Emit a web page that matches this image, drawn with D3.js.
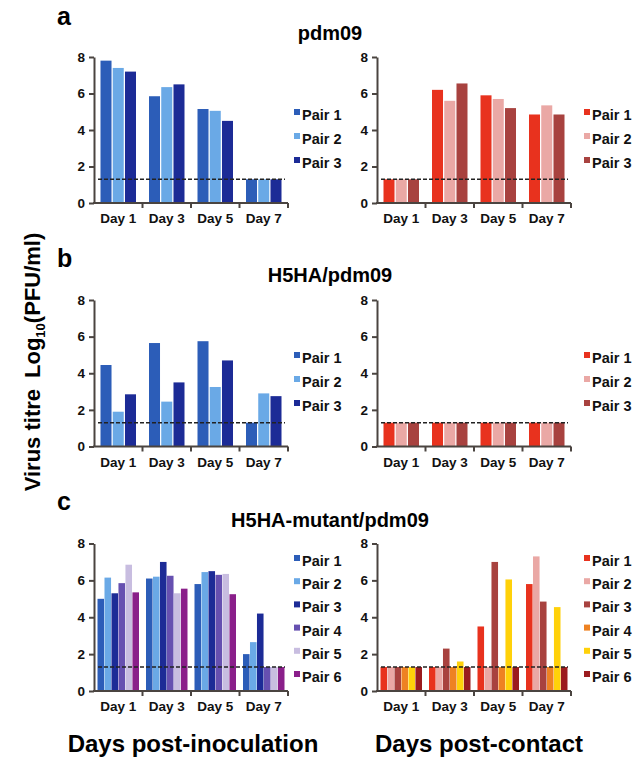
<!DOCTYPE html>
<html>
<head>
<meta charset="utf-8">
<script src="https://cdn.jsdelivr.net/npm/d3@7/dist/d3.min.js"></script>
<style>
	body { margin: 0; background: white; }
	svg { display: block; font-family: "Liberation Sans", Arial, Helvetica, sans-serif; }
</style>
</head>
<body>
<div id="chart"></div>
<script>

// Categories.
const days = ["Day 1", "Day 3", "Day 5", "Day 7"];
const pairs3 = ["Pair 1", "Pair 2", "Pair 3"];
const pairs6 = ["Pair 1", "Pair 2", "Pair 3", "Pair 4", "Pair 5", "Pair 6"];
const yTicks = [0, 2, 4, 6, 8];
const detectionLimit = 1.3;

// Titre values, one row per day, one entry per pair.
const pdm09Inoc = [[7.8, 7.4, 7.2], [5.85, 6.35, 6.5], [5.15, 5.05, 4.5], [1.3, 1.3, 1.3]];
const pdm09Contact = [[1.3, 1.3, 1.3], [6.2, 5.6, 6.55], [5.9, 5.7, 5.2], [4.85, 5.35, 4.85]];

const h5haInoc = [[4.45, 1.9, 2.85], [5.65, 2.45, 3.5], [5.75, 3.25, 4.7], [1.3, 2.9, 2.75]];
const h5haContact = [[1.3, 1.3, 1.3], [1.3, 1.3, 1.3], [1.3, 1.3, 1.3], [1.3, 1.3, 1.3]];

const mutantInoc = [
	[5.0, 6.15, 5.3, 5.85, 6.85, 5.35],
	[6.1, 6.2, 7.0, 6.25, 5.3, 5.55],
	[5.8, 6.45, 6.5, 6.3, 6.35, 5.25],
	[2.0, 2.65, 4.2, 1.3, 1.3, 1.3]
];
const mutantContact = [
	[1.3, 1.3, 1.3, 1.3, 1.3, 1.3],
	[1.3, 1.3, 2.3, 1.3, 1.6, 1.3],
	[3.5, 1.3, 7.0, 1.3, 6.05, 1.3],
	[5.8, 7.3, 4.85, 1.3, 4.55, 1.3]
];

// Series colours.
const blues = ["#2c5db8", "#6aa9e6", "#1c2b96", "#6650b0", "#c8bde0", "#8a1f8a"];
const reds = ["#e8321e", "#eaa8a5", "#a8423f", "#ee8222", "#ffd10a", "#9b1b1e"];


// Panel layout.
const axisColor = "#4a4440";
const plotW = 194;

let panels = [
	{letter: "a", title: "pdm09", ly: 25, ty: 40, y0: 203, y8: 57, legendY: 115, step: 24, sets: [
		{x: 94, data: pdm09Inoc, pairs: pairs3, colors: blues, lx: 294},
		{x: 377, data: pdm09Contact, pairs: pairs3, colors: reds, lx: 584}
	]},
	{letter: "b", title: "H5HA/pdm09", ly: 267, ty: 282, y0: 446.5, y8: 300, legendY: 358, step: 24, sets: [
		{x: 94, data: h5haInoc, pairs: pairs3, colors: blues, lx: 294},
		{x: 377, data: h5haContact, pairs: pairs3, colors: reds, lx: 584}
	]},
	{letter: "c", title: "H5HA-mutant/pdm09", ly: 510, ty: 527, y0: 691, y8: 543.5, legendY: 561, step: 23.2, sets: [
		{x: 94, data: mutantInoc, pairs: pairs6, colors: blues, lx: 294},
		{x: 377, data: mutantContact, pairs: pairs6, colors: reds, lx: 584}
	]}
];


let svg = d3.select("#chart")
  .append("svg")
	.attr("width", 633)
	.attr("height", 766);

svg.append("rect")
	.attr("width", 633)
	.attr("height", 766)
	.attr("fill", "white");


function drawSet(p, s){
	// One bar chart: axes, bars, detection limit and legend.
	let g = svg.append("g").attr("transform", `translate(${s.x},0)`);
	
	let y = d3.scaleLinear().domain([0, 8]).range([p.y0, p.y8]);
	let x = d3.scaleBand().domain(days).range([0, plotW]);
	let inner = d3.scaleBand()
	  .domain(s.pairs)
	  .range(s.pairs.length == 3 ? [6.5, 42] : [3.5, 45])
	  .paddingInner(s.pairs.length == 3 ? 0.1 : 0.06);
	
	// Bars.
	let groups = g.selectAll("g.day")
	  .data(s.data)
	  .enter()
	  .append("g")
		.attr("class", "day")
		.attr("transform", (d, i) => `translate(${x(days[i])},0)`);
	
	groups.selectAll("rect")
	  .data(d => d)
	  .enter()
	  .append("rect")
		.attr("x", (d, j) => inner(s.pairs[j]))
		.attr("width", inner.bandwidth())
		.attr("y", d => y(d))
		.attr("height", d => y(0) - y(d))
		.attr("fill", (d, j) => s.colors[j]);
	
	// Detection limit.
	g.append("line")
		.attr("x1", 4)
		.attr("x2", plotW - 3)
		.attr("y1", y(detectionLimit))
		.attr("y2", y(detectionLimit))
		.attr("stroke", "#222")
		.attr("stroke-width", 1.4)
		.attr("stroke-dasharray", "4,2");
	
	// Y axis.
	let yAxis = g.append("g")
	  .call(d3.axisLeft(y).tickValues(yTicks).tickSize(5).tickSizeOuter(0).tickPadding(4));
	yAxis.select(".domain").attr("stroke", axisColor).attr("stroke-width", 2);
	yAxis.selectAll(".tick line").attr("stroke", axisColor).attr("stroke-width", 2);
	yAxis.selectAll(".tick text")
		.attr("fill", "#111")
		.style("font-size", "13.5px")
		.style("font-weight", "bold");
	
	// X axis: baseline with ticks at the group boundaries.
	let xAxis = g.append("g").attr("transform", `translate(0,${p.y0})`);
	xAxis.append("line")
		.attr("x1", -1)
		.attr("x2", plotW)
		.attr("stroke", axisColor)
		.attr("stroke-width", 2);
	xAxis.selectAll("line.tick")
	  .data(days)
	  .enter()
	  .append("line")
		.attr("class", "tick")
		.attr("x1", d => x(d) + x.bandwidth())
		.attr("x2", d => x(d) + x.bandwidth())
		.attr("y1", 0)
		.attr("y2", 5)
		.attr("stroke", axisColor)
		.attr("stroke-width", 2);
	xAxis.selectAll("text")
	  .data(days)
	  .enter()
	  .append("text")
		.attr("x", d => x(d) + x.bandwidth() / 2)
		.attr("y", 20)
		.attr("text-anchor", "middle")
		.style("font-size", "13.5px")
		.style("font-weight", "bold")
		.attr("fill", "#111")
		.text(d => d);
	
	// Legend.
	let legend = svg.append("g")
	  .selectAll("g")
	  .data(s.pairs)
	  .enter()
	  .append("g")
		.attr("transform", (d, i) => `translate(${s.lx},${p.legendY + i * p.step})`);
	legend.append("rect")
		.attr("x", 0)
		.attr("y", -6)
		.attr("width", 6)
		.attr("height", 6)
		.attr("fill", (d, i) => s.colors[i]);
	legend.append("text")
		.attr("x", 8)
		.attr("y", 5)
		.style("font-size", "14.5px")
		.style("font-weight", "bold")
		.attr("fill", "#111")
		.text(d => d);
} // drawSet


panels.forEach(p => {
	svg.append("text")
		.attr("x", 57)
		.attr("y", p.ly)
		.style("font-size", "25px")
		.style("font-weight", "bold")
		.text(p.letter);
	
	svg.append("text")
		.attr("x", 330)
		.attr("y", p.ty)
		.attr("text-anchor", "middle")
		.style("font-size", "20px")
		.style("font-weight", "bold")
		.text(p.title);
	
	p.sets.forEach(s => drawSet(p, s));
}) // forEach


// Shared axis titles.
let ytitle = svg.append("text")
	.attr("transform", "translate(40,362) rotate(-90)")
	.attr("text-anchor", "middle")
	.style("font-size", "22px")
	.style("font-weight", "bold");
ytitle.append("tspan").text("Virus titre");
ytitle.append("tspan").attr("dx", 11).text("Log");
ytitle.append("tspan").attr("dy", 5).style("font-size", "13px").text("10");
ytitle.append("tspan").attr("dy", -5).text("(PFU/ml)");

svg.append("text")
	.attr("x", 193)
	.attr("y", 752)
	.attr("text-anchor", "middle")
	.style("font-size", "24px")
	.style("font-weight", "bold")
	.text("Days post-inoculation");

svg.append("text")
	.attr("x", 479)
	.attr("y", 752)
	.attr("text-anchor", "middle")
	.style("font-size", "24px")
	.style("font-weight", "bold")
	.text("Days post-contact");

</script>
</body>
</html>
